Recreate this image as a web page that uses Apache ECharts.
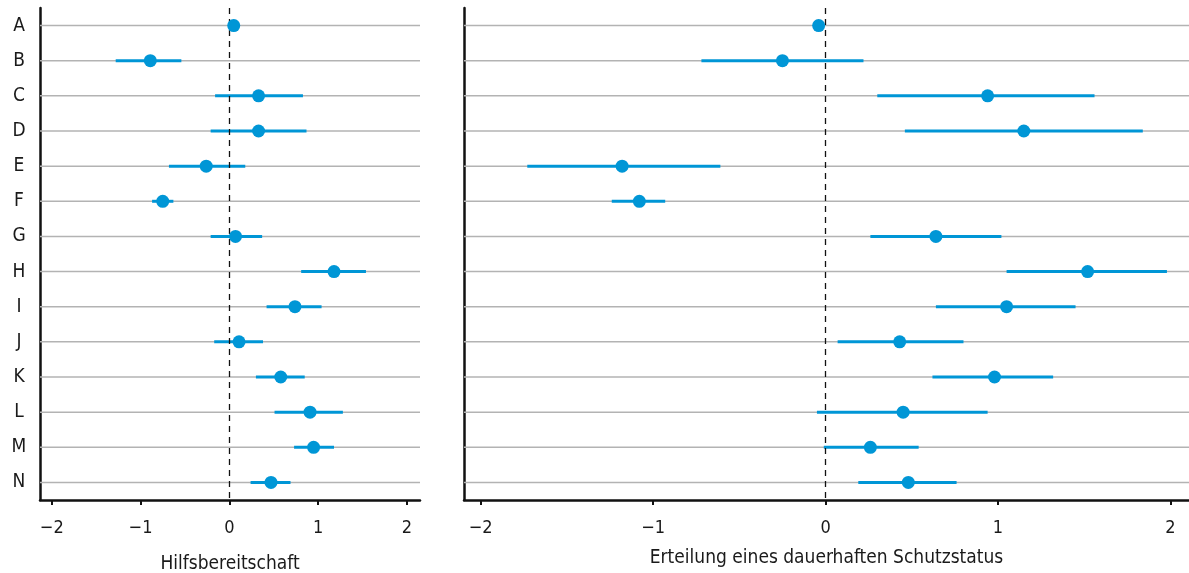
<!DOCTYPE html>
<html>
<head>
<meta charset="utf-8">
<script src="https://cdn.jsdelivr.net/npm/echarts@6/dist/echarts.min.js"></script>
<style>
  html, body { margin: 0; padding: 0; background: #ffffff; }
  #chart { width: 1189px; height: 573px; }
</style>
</head>
<body>
<div id="chart"></div>
<script>
// ---- data ----
const categories = ['A','B','C','D','E','F','G','H','I','J','K','L','M','N'];

// Panel 1: Hilfsbereitschaft
const helpEst  = [0.05, -0.89, 0.33, 0.33, -0.26, -0.75, 0.07, 1.18, 0.74, 0.11, 0.58, 0.91, 0.95, 0.47];
const helpLow  = [0.05, -1.28, -0.16, -0.21, -0.68, -0.87, -0.21, 0.81, 0.42, -0.17, 0.30, 0.51, 0.73, 0.24];
const helpHigh = [0.05, -0.54, 0.83, 0.87, 0.18, -0.63, 0.37, 1.54, 1.04, 0.38, 0.85, 1.28, 1.18, 0.69];

// Panel 2: Erteilung eines dauerhaften Schutzstatus
const protEst  = [-0.04, -0.25, 0.94, 1.15, -1.18, -1.08, 0.64, 1.52, 1.05, 0.43, 0.98, 0.45, 0.26, 0.48];
const protLow  = [-0.04, -0.72, 0.30, 0.46, -1.73, -1.24, 0.26, 1.05, 0.64, 0.07, 0.62, -0.05, -0.01, 0.19];
const protHigh = [-0.04, 0.22, 1.56, 1.84, -0.61, -0.93, 1.02, 1.98, 1.45, 0.80, 1.32, 0.94, 0.54, 0.76];

const tickValues = [-2, -1, 0, 1, 2];
const axisNames = ['Hilfsbereitschaft', 'Erteilung eines dauerhaften Schutzstatus'];

// ---- style ----
const BLUE = '#0096d6';
const GRID_GRAY = '#b3b3b3';
const TEXT = '#1a1a1a';
const FONT = '"DejaVu Sans Condensed", "DejaVu Sans", sans-serif';

function fmt(v) {
  return (v < 0 ? '\u2212' : '') + Math.abs(v);
}

function renderBar(params, api) {
  const cs = params.coordSys;
  const yi = api.value(0);
  const lo = api.coord([api.value(1), yi]);
  const hi = api.coord([api.value(2), yi]);
  return {
    type: 'group',
    children: [
      { type: 'line', shape: { x1: cs.x, y1: lo[1], x2: cs.x + cs.width, y2: lo[1] },
        style: { stroke: GRID_GRAY, lineWidth: 1.5 } },
      { type: 'line', shape: { x1: lo[0], y1: lo[1], x2: hi[0], y2: hi[1] },
        style: { stroke: BLUE, lineWidth: 3 } }
    ]
  };
}

function xAxisCfg(idx, min, max, nameGap) {
  return {
    gridIndex: idx,
    type: 'value',
    min: min, max: max,
    name: axisNames[idx],
    nameLocation: 'middle',
    nameGap: nameGap,
    nameTextStyle: { fontFamily: FONT, fontSize: 19, color: TEXT },
    axisLine: { show: true, onZero: false, lineStyle: { color: '#111', width: 2.5 } },
    axisTick: { show: true, length: 5, customValues: tickValues, lineStyle: { color: '#111', width: 2 } },
    axisLabel: { customValues: tickValues, formatter: fmt, fontFamily: FONT, fontSize: 18, color: TEXT, margin: 19 },
    splitLine: { show: false }
  };
}

function yAxisCfg(idx, showLabels) {
  return {
    gridIndex: idx,
    type: 'category',
    data: categories,
    inverse: true,
    boundaryGap: true,
    axisLine: { show: true, onZero: false, lineStyle: { color: '#111', width: 2.5 } },
    axisTick: { show: false },
    axisLabel: { show: showLabels, align: 'center', margin: 21, fontFamily: FONT, fontSize: 19, color: TEXT },
    splitLine: { show: false }
  };
}

function barData(lo, hi) {
  return categories.map((c, i) => [c, lo[i], hi[i]]);
}
function dotData(est) {
  return categories.map((c, i) => [est[i], c]);
}

const dashLine = {
  silent: true,
  symbol: 'none',
  label: { show: false },
  lineStyle: { color: '#111', width: 1.3, type: [6, 5] },
  data: [{ xAxis: 0 }]
};

const chart = echarts.init(document.getElementById('chart'), null, { renderer: 'canvas' });
chart.setOption({
  animation: false,
  backgroundColor: '#ffffff',
  grid: [
    { left: 40, width: 380, top: 8, height: 492, containLabel: false, outerBoundsMode: 'none' },
    { left: 464, right: 0, top: 8, height: 492, containLabel: false, outerBoundsMode: 'none' }
  ],
  xAxis: [
    xAxisCfg(0, -2.133, 2.149, 55),
    xAxisCfg(1, -2.097, 2.108, 49)
  ],
  yAxis: [
    yAxisCfg(0, true),
    yAxisCfg(1, false)
  ],
  series: [
    { type: 'custom', xAxisIndex: 0, yAxisIndex: 0, renderItem: renderBar,
      encode: { x: [1, 2], y: 0 }, data: barData(helpLow, helpHigh), z: 2,
      markLine: dashLine },
    { type: 'custom', xAxisIndex: 1, yAxisIndex: 1, renderItem: renderBar,
      encode: { x: [1, 2], y: 0 }, data: barData(protLow, protHigh), z: 2,
      markLine: dashLine },
    { type: 'scatter', xAxisIndex: 0, yAxisIndex: 0, symbol: 'circle', symbolSize: 13,
      itemStyle: { color: BLUE, opacity: 1 }, data: dotData(helpEst), z: 5 },
    { type: 'scatter', xAxisIndex: 1, yAxisIndex: 1, symbol: 'circle', symbolSize: 13,
      itemStyle: { color: BLUE, opacity: 1 }, data: dotData(protEst), z: 5 }
  ]
});
</script>
</body>
</html>
